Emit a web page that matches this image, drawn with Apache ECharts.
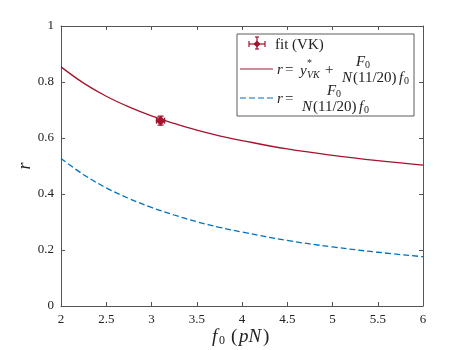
<!DOCTYPE html>
<html>
<head>
<meta charset="utf-8">
<script src="https://cdn.jsdelivr.net/npm/echarts@6/dist/echarts.min.js"></script>
<style>
  html, body { margin: 0; padding: 0; background: #fff; }
  #chart { width: 467px; height: 350px; }
</style>
</head>
<body>
<div id="chart"></div>
<script>
/* data */
const f0 = [2, 2.25, 2.5, 2.75, 3, 3.25, 3.5, 3.75, 4, 4.5, 5, 5.5, 6];
const rVK = [0.854, 0.796, 0.749, 0.711, 0.679, 0.652, 0.628, 0.608, 0.591, 0.561, 0.538, 0.519, 0.503];
const rBare = [0.527, 0.469, 0.422, 0.384, 0.352, 0.325, 0.301, 0.281, 0.264, 0.234, 0.211, 0.192, 0.176];
const fitX = [3.1];
const fitY = [0.662];
const fitXErr = [0.045];
const fitYErr = [0.016];
const xTicks = { min: 2, max: 6, step: 0.5 };
const yTicks = { min: 0, max: 1, step: 0.2 };

const RED = '#A2142F';
const BLUE = '#0072BD';
const AXIS = '#555';
const SERIF = "'Liberation Serif', 'DejaVu Serif', serif";

const chart = echarts.init(document.getElementById('chart'), null, { renderer: 'canvas' });

// axis helper: box with inward ticks on every side
function axis(pos, t, showLabels) {
  return {
    type: 'value', position: pos, min: t.min, max: t.max, interval: t.step,
    axisLine: { show: true, onZero: false, lineStyle: { color: AXIS, width: 1 } },
    axisTick: { show: true, inside: true, length: 4, lineStyle: { color: AXIS } },
    axisLabel: { show: showLabels, color: '#222', fontFamily: SERIF, fontSize: 13, margin: 7 },
    splitLine: { show: false }
  };
}

const pairs = (xs, ys) => xs.map((x, i) => [x, ys[i]]);

// error bar glyph (horizontal + vertical bars with caps, diamond marker)
function errorBar(params, api) {
  const x = api.value(0), y = api.value(1);
  const dx = api.value(2), dy = api.value(3);
  const c = api.coord([x, y]);
  const l = api.coord([x - dx, y]), r = api.coord([x + dx, y]);
  const t = api.coord([x, y + dy]), b = api.coord([x, y - dy]);
  const s = { stroke: RED, lineWidth: 1.3 };
  const cap = 3;
  const d = 5;
  return {
    type: 'group',
    children: [
      { type: 'line', shape: { x1: l[0], y1: c[1], x2: r[0], y2: c[1] }, style: s },
      { type: 'line', shape: { x1: c[0], y1: t[1], x2: c[0], y2: b[1] }, style: s },
      { type: 'line', shape: { x1: l[0], y1: c[1] - cap, x2: l[0], y2: c[1] + cap }, style: s },
      { type: 'line', shape: { x1: r[0], y1: c[1] - cap, x2: r[0], y2: c[1] + cap }, style: s },
      { type: 'line', shape: { x1: c[0] - cap, y1: t[1], x2: c[0] + cap, y2: t[1] }, style: s },
      { type: 'line', shape: { x1: c[0] - cap, y1: b[1], x2: c[0] + cap, y2: b[1] }, style: s },
      { type: 'polygon', shape: { points: [[c[0], c[1] - d], [c[0] + d, c[1]], [c[0], c[1] + d], [c[0] - d, c[1]]] },
        style: { fill: RED } }
    ]
  };
}

/* ── legend drawn by hand (LaTeX fractions) ── */
const LX = 237, LY = 34;
function txt(x, y, text, opt = {}) {
  return {
    type: 'text', x, y, z: 20,
    style: Object.assign({
      text, fill: '#222', fontFamily: SERIF, fontSize: 15,
      textAlign: 'left', textVerticalAlign: 'middle'
    }, opt)
  };
}
const it = { fontStyle: 'italic' };
const small = { fontSize: 10 };
const smallIt = { fontSize: 10, fontStyle: 'italic' };
const seg = (x1, y1, x2, y2, style) => ({ type: 'line', z: 20, shape: { x1, y1, x2, y2 }, style });
const redLine = { stroke: RED, lineWidth: 1.2 };

const legend = [
  { type: 'rect', shape: { x: LX, y: LY, width: 177, height: 82 }, z: 10,
    style: { fill: '#fff', stroke: '#333', lineWidth: 0.8 } },
  // row 1 — fit (VK)
  seg(249, 44, 265, 44, redLine),
  seg(249, 41, 249, 47, redLine),
  seg(265, 41, 265, 47, redLine),
  seg(257, 37, 257, 49, redLine),
  seg(255, 37, 259, 37, redLine),
  seg(255, 49, 259, 49, redLine),
  { type: 'polygon', z: 21, shape: { points: [[257, 40.5], [260.5, 44], [257, 47.5], [253.5, 44]] }, style: { fill: RED } },
  txt(275, 45, 'fit (VK)'),
  // row 2 — r = y*_VK + F0 / (N(11/20) f0)
  seg(240, 69, 273, 69, redLine),
  txt(277, 70, 'r', it),
  txt(285, 70, '='),
  txt(300, 71, 'y', it),
  txt(307, 63, '*', small),
  txt(307, 75, 'VK', smallIt),
  txt(325, 70, '+'),
  txt(356, 62, 'F', it),
  txt(365, 65, '0', small),
  txt(342, 78, 'N', it),
  txt(353, 78, '(11/20)'),
  txt(399, 78, 'f', it),
  txt(404, 81, '0', small),
  // row 3 — r = F0 / (N(11/20) f0)
  seg(240, 98, 273, 98, { stroke: BLUE, lineWidth: 1.2, lineDash: [6, 3] }),
  txt(277, 99, 'r', it),
  txt(285, 99, '='),
  txt(327, 91, 'F', it),
  txt(336, 94, '0', small),
  txt(302, 107, 'N', it),
  txt(313, 107, '(11/20)'),
  txt(359, 107, 'f', it),
  txt(364, 110, '0', small)
];

const option = {
  animation: false,
  grid: { left: 61, right: 44, top: 26, bottom: 44, containLabel: false },
  xAxis: [axis('bottom', xTicks, true), axis('top', xTicks, false)],
  yAxis: [axis('left', yTicks, true), axis('right', yTicks, false)],
  series: [
    { type: 'line', data: pairs(f0, rVK), smooth: 0.4, showSymbol: false,
      lineStyle: { color: RED, width: 1.3 } },
    { type: 'line', data: pairs(f0, rBare), smooth: 0.4, showSymbol: false,
      lineStyle: { color: BLUE, width: 1.3, type: [6, 3] } },
    { type: 'custom', renderItem: errorBar, z: 5,
      data: fitX.map((x, i) => [x, fitY[i], fitXErr[i], fitYErr[i]]) }
  ],
  graphic: [
    ...legend,
    // axis titles
    txt(212, 337, 'f', { fontSize: 19, fontStyle: 'italic' }),
    txt(219, 341, '0', { fontSize: 12 }),
    txt(231, 337, '(', { fontSize: 19 }),
    txt(239, 337, 'pN', { fontSize: 19, fontStyle: 'italic' }),
    txt(263, 337, ')', { fontSize: 19 }),
    { type: 'text', x: 25, y: 166, rotation: Math.PI / 2, z: 20,
      style: { text: 'r', fill: '#222', fontFamily: SERIF, fontSize: 18, fontStyle: 'italic',
               textAlign: 'center', textVerticalAlign: 'middle' } }
  ]
};

chart.setOption(option);
</script>
</body>
</html>
